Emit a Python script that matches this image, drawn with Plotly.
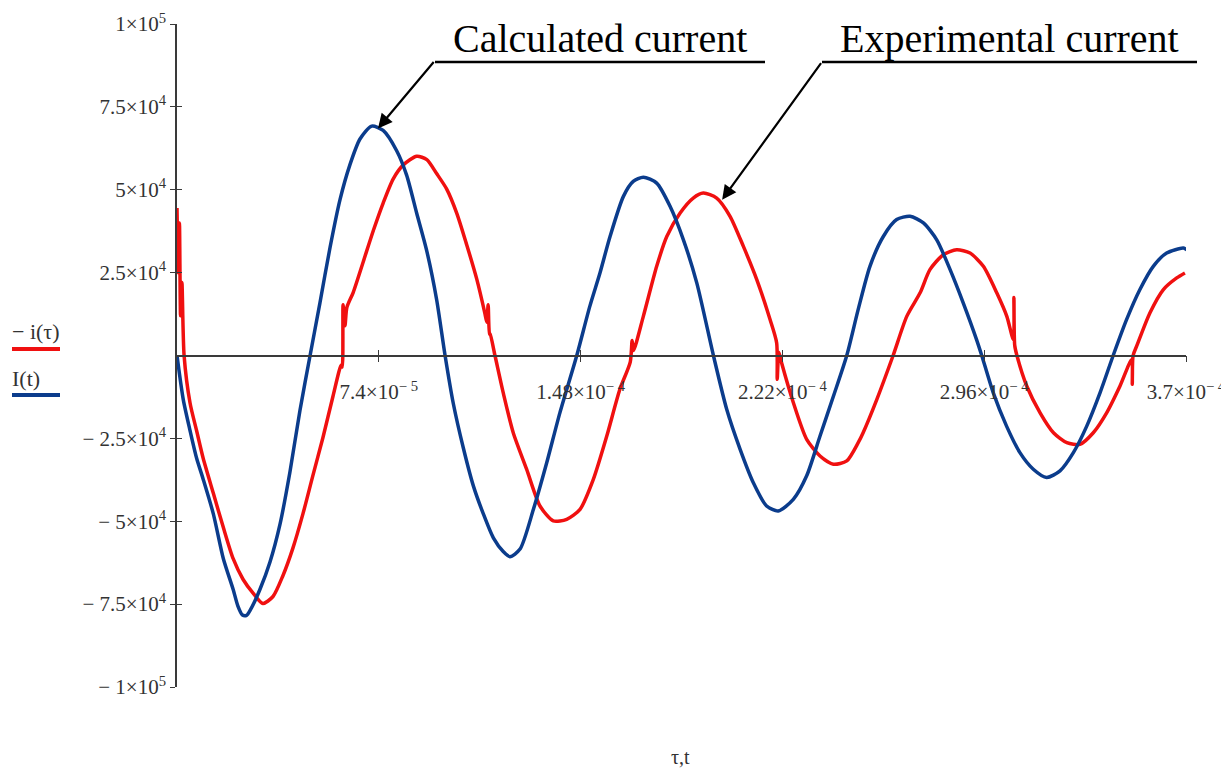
import plotly.graph_objects as go

# time in microseconds, current in thousands of amperes (x10^3 A)
t_calc = [0.0, 2.3, 4.8, 7.2, 9.6, 13.3, 17.0, 20.6, 22.3, 24.0, 25.5, 27.0, 30.4, 34.1, 37.8, 41.4, 45.1,
          48.8, 52.4, 56.1, 59.8, 63.4, 67.1, 71.4, 75.6, 80.6, 84.2, 87.9, 91.6, 95.2, 98.3,
          101.3, 105.0, 108.7, 112.3, 116.0, 119.7, 122.1, 125.8, 130.7, 135.6, 140.4, 146.6,
          151.4, 155.1, 158.8, 163.7, 167.3, 171.0, 175.9, 180.8, 185.7, 190.6, 196.7, 201.6,
          206.5, 211.3, 216.2, 220.5, 226.0, 230.9, 235.8, 240.7, 245.6, 249.8, 254.1, 259.0,
          263.9, 268.8, 273.7, 278.6, 283.5, 288.3, 293.2, 295.1, 299.3, 304.2, 309.1, 314.0,
          318.9, 323.8, 328.7, 333.6, 338.5, 343.3, 348.2, 353.1, 358.0, 362.9, 369.0, 370.2]
i_calc = [0.0, -13.3, -22.7, -31.0, -37.3, -47.7, -61.3, -70.6, -75.5, -78.3, -78.4, -76.6, -70.6, -62.3, -50.8,
          -35.2, -16.5, 0.0, 15.8, 32.5, 47.1, 57.5, 65.3, 69.2, 67.9, 61.7, 54.4, 42.9, 31.5,
          16.9, 0.0, -14.4, -27.9, -39.4, -47.7, -55.0, -59.2, -60.7, -58.4, -46.4, -32.3, -17.3,
          0.0, 14.9, 24.9, 35.9, 48.0, 52.5, 53.8, 52.0, 45.0, 34.9, 21.9, 0.0, -16.3, -28.3,
          -38.3, -45.4, -46.9, -43.4, -36.3, -24.3, -12.3, 0.0, 13.9, 26.9, 35.9, 41.0, 42.0,
          40.0, 34.9, 25.9, 15.9, 4.8, 0.0, -11.2, -21.3, -29.3, -34.3, -36.8, -34.8, -29.3,
          -21.3, -11.2, 0.0, 10.8, 19.9, 26.9, 30.9, 32.4, 31.9]

t_exp = [0.0, 0.5, 0.9, 1.3, 1.8, 2.6, 4.8, 7.2, 9.6, 13.3, 17.0, 20.6, 24.2, 27.9, 31.5, 35.2,
         38.8, 42.5, 46.2, 49.8, 53.5, 57.2, 60.2, 60.6, 60.9, 61.6, 62.3, 64.6, 68.3, 72.0,
         75.6, 79.3, 83.0, 87.9, 91.6, 95.2, 98.9, 102.6, 106.2, 109.9, 112.9, 113.6, 114.1,
         114.6, 114.8, 116.6, 119.7, 123.3, 128.2, 133.1, 138.0, 142.9, 147.8, 152.7, 157.6,
         162.4, 166.2, 166.9, 167.4, 171.0, 175.9, 179.6, 184.5, 189.3, 193.0, 197.9, 202.8,
         207.7, 212.6, 217.5, 219.9, 220.1, 220.7, 221.7, 226.0, 230.9, 235.8, 240.7, 245.6,
         249.8, 251.6, 256.6, 262.6, 267.6, 272.5, 276.1, 281.0, 285.9, 290.8, 295.7, 300.6,
         304.3, 306.7, 306.9, 307.2, 308.0, 311.6, 316.5, 321.4, 326.3, 331.1, 336.0, 340.9,
         345.8, 350.1, 350.3, 350.6, 351.9, 356.8, 361.7, 366.6, 369.6]
i_exp = [44.5, 25.0, 40.0, 12.0, 22.0, 0.0, -14.4, -22.7, -31.0, -41.5, -51.9, -61.3, -67.5,
         -71.7, -74.8, -72.7, -66.5, -58.1, -47.7, -36.3, -24.8, -12.3, -2.9, -3.5, 15.3, 9.0,
         14.5, 19.0, 28.3, 37.7, 46.0, 53.3, 57.5, 60.1, 59.1, 54.9, 50.2, 42.9, 33.5, 23.1,
         12.7, 10.0, 15.3, 6.5, 6.5, 0.0, -11.5, -23.3, -34.3, -45.4, -49.9, -49.4, -46.4,
         -37.3, -24.3, -10.2, -2.0, 4.5, 1.5, 11.8, 26.9, 35.9, 43.0, 47.5, 49.0, 47.5, 42.0,
         32.9, 22.9, 10.8, 3.8, -7.2, 1.0, -2.2, -14.2, -25.3, -30.3, -32.8, -31.8, -26.3,
         -23.3, -13.3, 0.0, 11.8, 18.9, 25.9, 30.4, 31.9, 30.9, 26.9, 18.9, 11.8, 4.8, 17.5,
         3.0, 0.0, -9.2, -17.3, -23.3, -26.3, -26.8, -23.3, -17.3, -9.2, -1.2, -8.7, 0.0, 2.8,
         12.9, 19.9, 23.4, 24.9]

x_tickvals = [74, 148, 222, 296, 370]
x_ticktext = ["7.4×10<sup>− 5</sup>", "1.48×10<sup>− 4</sup>", "2.22×10<sup>− 4</sup>",
              "2.96×10<sup>− 4</sup>", "3.7×10<sup>− 4</sup>"]
y_tickvals = [100, 75, 50, 25, -25, -50, -75, -100]
y_ticktext = ["1×10<sup>5</sup>", "7.5×10<sup>4</sup>", "5×10<sup>4</sup>", "2.5×10<sup>4</sup>",
              "− 2.5×10<sup>4</sup>", "− 5×10<sup>4</sup>", "− 7.5×10<sup>4</sup>", "− 1×10<sup>5</sup>"]

RED = "#f01010"
BLUE = "#0b3c8c"
AX = "#3a3a3a"
FONT = "Liberation Serif"
TXT = "#333333"

fig = go.Figure()
fig.add_trace(go.Scatter(x=t_exp, y=i_exp, mode="lines",
                         line=dict(color=RED, width=3.5, shape="spline", smoothing=0.7),
                         showlegend=False, hoverinfo="skip"))
fig.add_trace(go.Scatter(x=t_calc, y=i_calc, mode="lines",
                         line=dict(color=BLUE, width=3.5, shape="spline", smoothing=0.7),
                         showlegend=False, hoverinfo="skip"))

# page is offset by the browser's default 8px body margin
OFF = 8
PAGE_W, PAGE_H = 1229, 771
W, H = PAGE_W - OFF, PAGE_H - OFF
# plot area in page pixels: x 177..1186, y 24..687
PL, PR, PT, PB = 177, 1186, 24, 687
ML, MT = PL - OFF, PT - OFF
MR, MB = W - (PR - OFF), H - (PB - OFF)
pw, ph = PR - PL, PB - PT

def px_x(p):
    return (p - PL) / pw

def px_y(p):
    return (PB - p) / ph

fig.update_layout(
    width=W, height=H,
    margin=dict(l=ML, r=MR, t=MT, b=MB, autoexpand=False),
    paper_bgcolor="white", plot_bgcolor="white",
    font=dict(family=FONT, size=21, color=TXT),
    xaxis=dict(range=[0, 370], anchor="free", position=0.5, showline=True, linecolor=AX,
               linewidth=1.5, ticks="outside", ticklen=6, tickwidth=1.2, tickcolor=AX,
               tickvals=x_tickvals, ticktext=x_ticktext, showgrid=False, zeroline=False,
               automargin=False, ticklabelstandoff=12,
               tickfont=dict(family=FONT, size=21, color=TXT)),
    xaxis2=dict(range=[0, 370], overlaying="x", anchor="free", position=0.5, showline=False,
                ticks="inside", ticklen=6, tickwidth=1.2, tickcolor=AX, tickvals=x_tickvals,
                showticklabels=False, showgrid=False, zeroline=False, automargin=False),
    yaxis=dict(range=[-100, 100], showline=True, linecolor=AX, linewidth=1.5, ticks="outside",
               ticklen=5, tickwidth=1.2, tickcolor=AX, tickvals=y_tickvals, ticktext=y_ticktext,
               showgrid=False, zeroline=False, ticklabelstandoff=0, automargin=False,
               tickfont=dict(family=FONT, size=21, color=TXT)),
    yaxis2=dict(range=[-100, 100], overlaying="y", anchor="x", showline=False, ticks="inside",
                ticklen=5, tickwidth=1.2, tickcolor=AX, tickvals=y_tickvals,
                showticklabels=False, showgrid=False, zeroline=False, automargin=False),
)
# invisible trace to activate overlay axes
fig.add_trace(go.Scatter(x=[None], y=[None], xaxis="x2", yaxis="y2", showlegend=False))

shapes = [
    dict(type="line", xref="paper", yref="paper", x0=px_x(12), x1=px_x(60), y0=px_y(349), y1=px_y(349),
         line=dict(color=RED, width=4)),
    dict(type="line", xref="paper", yref="paper", x0=px_x(12), x1=px_x(60), y0=px_y(395), y1=px_y(395),
         line=dict(color=BLUE, width=4)),
    dict(type="line", xref="paper", yref="paper", x0=px_x(435), x1=px_x(765), y0=px_y(62), y1=px_y(62),
         line=dict(color="black", width=2.5)),
    dict(type="line", xref="paper", yref="paper", x0=px_x(822), x1=px_x(1197), y0=px_y(62), y1=px_y(62),
         line=dict(color="black", width=2.5)),
]
fig.update_layout(shapes=shapes)

ann = [
    dict(text="− i(τ)", xref="paper", yref="paper", x=px_x(10), y=px_y(331), xanchor="left",
         yanchor="middle", showarrow=False, font=dict(family=FONT, size=22, color=TXT)),
    dict(text="I(t)", xref="paper", yref="paper", x=px_x(10), y=px_y(378), xanchor="left",
         yanchor="middle", showarrow=False, font=dict(family=FONT, size=22, color=TXT)),
    dict(text="τ,t", xref="paper", yref="paper", x=px_x(680), y=px_y(757), xanchor="center",
         yanchor="middle", showarrow=False, font=dict(family=FONT, size=20, color=TXT)),
    dict(text="Calculated current", xref="paper", yref="paper", x=px_x(600), y=px_y(38),
         xanchor="center", yanchor="middle", showarrow=False,
         font=dict(family=FONT, size=40, color="black")),
    dict(text="Experimental current", xref="paper", yref="paper", x=px_x(1009), y=px_y(38),
         xanchor="center", yanchor="middle", showarrow=False,
         font=dict(family=FONT, size=40, color="black")),
    dict(text="", x=73.7, y=68.5, xref="x", yref="y", ax=57, ay=-68, showarrow=True,
         arrowhead=2, arrowsize=1.3, arrowwidth=2.2, arrowcolor="black", standoff=0),
    dict(text="", x=199.9, y=47.0, xref="x", yref="y", ax=100, ay=-138, showarrow=True,
         arrowhead=2, arrowsize=1.3, arrowwidth=2.2, arrowcolor="black", standoff=0),
]
fig.update_layout(annotations=ann)

fig.write_html("out.html")
